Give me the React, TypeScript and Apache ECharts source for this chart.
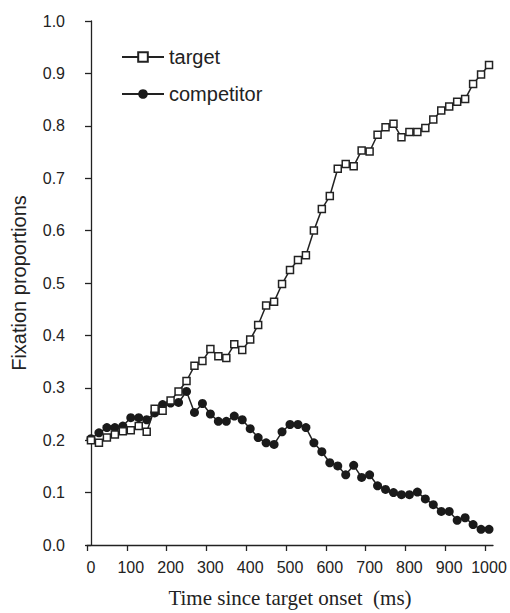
import React, { useEffect, useRef } from "react";
import * as echarts from "echarts";

const times = [
  0, 20, 40, 60, 80, 100, 120, 140, 160, 180, 200, 220, 240, 260, 280, 300, 320,
  340, 360, 380, 400, 420, 440, 460, 480, 500, 520, 540, 560, 580, 600, 620, 640,
  660, 680, 700, 720, 740, 760, 780, 800, 820, 840, 860, 880, 900, 920, 940, 960,
  980, 1000,
];

const target = [
  0.2, 0.195, 0.205, 0.211, 0.217, 0.219, 0.227, 0.216, 0.26, 0.256, 0.276, 0.293,
  0.313, 0.342, 0.351, 0.374, 0.36, 0.357, 0.383, 0.372, 0.392, 0.42, 0.457, 0.464,
  0.498, 0.525, 0.544, 0.553, 0.6, 0.641, 0.666, 0.718, 0.727, 0.723, 0.753, 0.751,
  0.783, 0.797, 0.804, 0.778, 0.788, 0.788, 0.796, 0.812, 0.829, 0.837, 0.846,
  0.851, 0.88, 0.898, 0.916,
];

const competitor = [
  0.203, 0.214, 0.224, 0.224, 0.227, 0.243, 0.243, 0.239, 0.252, 0.268, 0.271,
  0.272, 0.293, 0.253, 0.27, 0.25, 0.236, 0.236, 0.246, 0.239, 0.222, 0.205, 0.195,
  0.192, 0.216, 0.23, 0.23, 0.224, 0.195, 0.178, 0.157, 0.151, 0.134, 0.152, 0.129,
  0.134, 0.113, 0.106, 0.1, 0.096, 0.096, 0.101, 0.088, 0.077, 0.064, 0.064, 0.047,
  0.052, 0.039, 0.03, 0.03,
];

const xLabelValues = [0, 100, 200, 300, 400, 500, 600, 700, 800, 900, 1000];
const xTickValues = [-10, 90, 190, 290, 390, 490, 590, 690, 790, 890, 990];

const INK = "#222";

export default function App() {
  const ref = useRef<HTMLDivElement>(null);
  useEffect(() => {
    if (!ref.current) return;
    const chart = echarts.init(ref.current, null, { renderer: "svg" });
    chart.setOption({
      animation: false,
      backgroundColor: "#fff",
      grid: { left: 87, top: 21, right: 17, bottom: 63 },
      legend: {
        orient: "vertical",
        left: 116,
        top: 42,
        itemWidth: 42,
        itemHeight: 12,
        itemGap: 17,
        textStyle: { fontFamily: "Liberation Sans, Arial", fontSize: 20, color: INK },
        data: ["target", "competitor"],
      },
      xAxis: {
        type: "value",
        min: -10,
        max: 1010,
        name: "Time since target onset  (ms)",
        nameLocation: "middle",
        nameGap: 42,
        nameTextStyle: { fontFamily: "Liberation Serif, Times New Roman", fontSize: 21, color: INK },
        axisLine: { lineStyle: { color: INK, width: 1.3 } },
        axisTick: { show: true, length: 6, customValues: xTickValues, lineStyle: { color: INK, width: 1.3 } },
        axisLabel: {
          customValues: xLabelValues,
          margin: 14,
          fontFamily: "Liberation Sans, Arial",
          fontSize: 16,
          color: INK,
          formatter: (v: number) => String(v),
        },
        splitLine: { show: false },
      },
      yAxis: {
        type: "value",
        min: 0,
        max: 1,
        interval: 0.1,
        name: "Fixation proportions",
        nameLocation: "middle",
        nameGap: 58,
        nameTextStyle: { fontFamily: "Liberation Sans, Arial", fontSize: 20, color: INK },
        axisLine: { show: true, lineStyle: { color: INK, width: 1.3 } },
        axisTick: { show: true, length: 6, lineStyle: { color: INK, width: 1.3 } },
        axisLabel: {
          margin: 22,
          fontFamily: "Liberation Sans, Arial",
          fontSize: 16,
          color: INK,
          formatter: (v: number) => v.toFixed(1),
        },
        splitLine: { show: false },
      },
      series: [
        {
          name: "target",
          type: "line",
          z: 3,
          clip: false,
          data: times.map((t, i) => [t, target[i]]),
          symbol: "rect",
          symbolSize: 7,
          showAllSymbol: true,
          lineStyle: { color: INK, width: 1.5 },
          itemStyle: { color: "#fff", borderColor: INK, borderWidth: 1.5 },
        },
        {
          name: "competitor",
          type: "line",
          z: 2,
          clip: false,
          data: times.map((t, i) => [t, competitor[i]]),
          symbol: "circle",
          symbolSize: 9,
          showAllSymbol: true,
          lineStyle: { color: INK, width: 1.5 },
          itemStyle: { color: "#1a1a1a", borderColor: "#1a1a1a", borderWidth: 0 },
        },
      ],
    });
    return () => chart.dispose();
  }, []);
  return <div ref={ref} style={{ width: 510, height: 613, position: "absolute", left: 0, top: 0 }} />;
}
